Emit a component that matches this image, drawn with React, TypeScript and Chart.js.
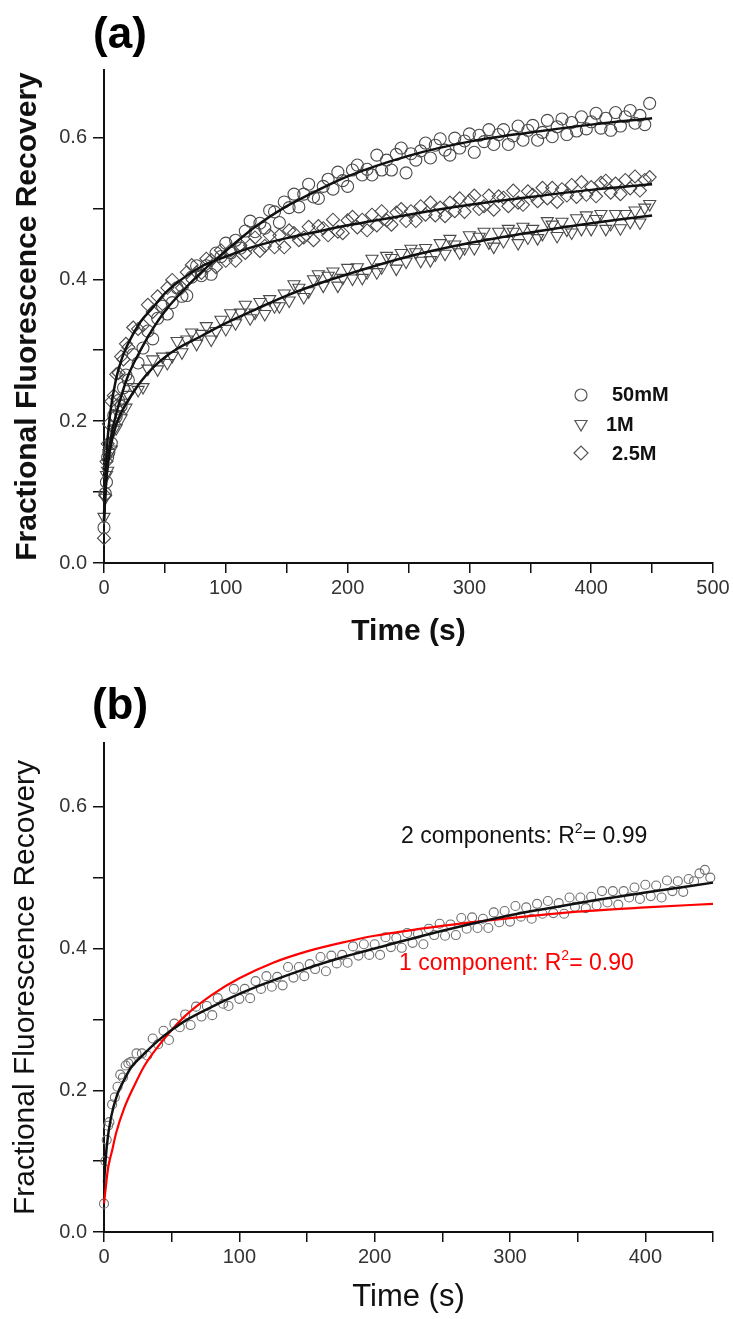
import React, { useEffect, useRef } from "react";
import { Chart, registerables } from "chart.js";
Chart.register(...registerables);

const FONT = '"Liberation Sans", Arial, Helvetica, sans-serif';

// sampling times (s) for measured points
const TIMES = [0, 1, 2, 3, 4, 6, 8, 10, 12, 14, 16, 18, 20,
  24, 28, 32, 36, 40, 44, 48, 52, 56, 60,
  64, 68, 72, 76, 80, 84, 88, 92, 96, 100,
  104, 108, 112, 116, 120, 124, 128, 132, 136, 140,
  144, 148, 152, 156, 160, 164, 168, 172, 176, 180,
  184, 188, 192, 196, 200, 204, 208, 212, 216, 220,
  224, 228, 232, 236, 240, 244, 248, 252, 256, 260,
  264, 268, 272, 276, 280, 284, 288, 292, 296, 300,
  304, 308, 312, 316, 320, 324, 328, 332, 336, 340,
  344, 348, 352, 356, 360, 364, 368, 372, 376, 380,
  384, 388, 392, 396, 400, 404, 408, 412, 416, 420,
  424, 428, 432, 436, 440, 444, 448];

// panel (a) measured data
const CIRCLE_50MM = [0.05, 0.098, 0.114, 0.149, 0.156, 0.169, 0.208, 0.206, 0.229, 0.221, 0.247, 0.265, 0.258,
  0.294, 0.282, 0.303, 0.327, 0.316, 0.345, 0.362, 0.351, 0.367, 0.388,
  0.376, 0.377, 0.403, 0.419, 0.405, 0.419, 0.407, 0.437, 0.432, 0.451,
  0.437, 0.455, 0.444, 0.468, 0.482, 0.467, 0.479, 0.472, 0.497, 0.495,
  0.48, 0.509, 0.501, 0.52, 0.502, 0.52, 0.534, 0.516, 0.514, 0.531,
  0.541, 0.527, 0.551, 0.539, 0.531, 0.554, 0.561, 0.547, 0.555, 0.547,
  0.575, 0.554, 0.568, 0.554, 0.576, 0.585, 0.55, 0.577, 0.568, 0.581,
  0.592, 0.571, 0.589, 0.598, 0.582, 0.575, 0.599, 0.585, 0.595, 0.605,
  0.579, 0.603, 0.594, 0.611, 0.59, 0.604, 0.611, 0.59, 0.602, 0.616,
  0.596, 0.61, 0.617, 0.596, 0.607, 0.624, 0.601, 0.615, 0.626, 0.604,
  0.621, 0.609, 0.629, 0.612, 0.622, 0.634, 0.613, 0.627, 0.61, 0.635,
  0.616, 0.629, 0.638, 0.62, 0.631, 0.618, 0.648];

const TRIANGLE_1M = [0.065, 0.092, 0.124, 0.13, 0.155, 0.16, 0.188, 0.19, 0.21, 0.204, 0.226, 0.219, 0.237,
  0.248, 0.244, 0.248, 0.274, 0.287, 0.273, 0.291, 0.282, 0.292, 0.313,
  0.297, 0.315, 0.325, 0.309, 0.323, 0.334, 0.315, 0.327, 0.343, 0.33,
  0.352, 0.338, 0.353, 0.364, 0.345, 0.353, 0.368, 0.351, 0.372, 0.362,
  0.362, 0.38, 0.37, 0.393, 0.388, 0.375, 0.383, 0.40, 0.407, 0.391,
  0.405, 0.411, 0.391, 0.402, 0.416, 0.401, 0.417, 0.402, 0.41, 0.429,
  0.41, 0.417, 0.433, 0.43, 0.415, 0.437, 0.425, 0.443, 0.438, 0.426,
  0.444, 0.427, 0.435, 0.451, 0.436, 0.457, 0.449, 0.438, 0.444, 0.462,
  0.444, 0.46, 0.467, 0.452, 0.446, 0.467, 0.454, 0.471, 0.467, 0.451,
  0.474, 0.459, 0.471, 0.458, 0.464, 0.482, 0.477, 0.461, 0.481, 0.47,
  0.466, 0.486, 0.471, 0.49, 0.471, 0.485, 0.492, 0.471, 0.478, 0.492,
  0.472, 0.492, 0.481, 0.497, 0.48, 0.501, 0.506];

const DIAMOND_25M = [0.035, 0.095, 0.143, 0.168, 0.196, 0.228, 0.236, 0.266, 0.268, 0.291, 0.287, 0.309, 0.304,
  0.332, 0.33, 0.335, 0.364, 0.354, 0.376, 0.365, 0.388, 0.399, 0.388,
  0.388, 0.41, 0.42, 0.41, 0.409, 0.429, 0.427, 0.417, 0.441, 0.426,
  0.441, 0.426, 0.448, 0.437, 0.448, 0.459, 0.44, 0.447, 0.462, 0.445,
  0.462, 0.445, 0.469, 0.465, 0.455, 0.459, 0.474, 0.455, 0.475, 0.472,
  0.462, 0.484, 0.467, 0.465, 0.483, 0.488, 0.473, 0.484, 0.469, 0.491,
  0.476, 0.496, 0.483, 0.477, 0.494, 0.499, 0.482, 0.496, 0.482, 0.503,
  0.491, 0.508, 0.49, 0.501, 0.489, 0.508, 0.496, 0.514, 0.495, 0.511,
  0.518, 0.499, 0.503, 0.518, 0.498, 0.517, 0.515, 0.503, 0.525, 0.508,
  0.505, 0.524, 0.519, 0.51, 0.529, 0.514, 0.529, 0.509, 0.527, 0.518,
  0.533, 0.516, 0.537, 0.519, 0.53, 0.517, 0.536, 0.539, 0.522, 0.535,
  0.52, 0.54, 0.528, 0.545, 0.525, 0.54, 0.544];

// fitted curves, panel (a)
const FIT_T = [0, 2, 5, 10, 15, 20, 30, 40, 50, 60, 80, 100, 125, 150, 175, 200, 250, 300, 350, 400, 450];
const FIT_50MM = [0.06, 0.12, 0.17, 0.21, 0.24, 0.265, 0.30, 0.33, 0.355, 0.375, 0.41, 0.44, 0.475, 0.503, 0.525, 0.545, 0.574, 0.594, 0.607, 0.618, 0.627];
const FIT_1M = [0.07, 0.12, 0.16, 0.195, 0.215, 0.23, 0.255, 0.275, 0.29, 0.302, 0.32, 0.338, 0.358, 0.377, 0.393, 0.407, 0.432, 0.451, 0.466, 0.479, 0.49];
const FIT_25M = [0.06, 0.15, 0.21, 0.26, 0.29, 0.31, 0.34, 0.36, 0.38, 0.395, 0.418, 0.432, 0.447, 0.458, 0.467, 0.476, 0.491, 0.505, 0.516, 0.526, 0.534];

// panel (b) measured data
const B_DATA = [0.04, 0.10, 0.13, 0.15, 0.155, 0.18, 0.19, 0.205, 0.222, 0.218, 0.235, 0.238, 0.24,
  0.252, 0.252, 0.249, 0.273, 0.265, 0.284, 0.271, 0.294, 0.289, 0.307,
  0.292, 0.318, 0.304, 0.319, 0.306, 0.33, 0.322, 0.319, 0.343, 0.329,
  0.343, 0.33, 0.354, 0.343, 0.361, 0.346, 0.36, 0.348, 0.374, 0.359,
  0.374, 0.361, 0.378, 0.371, 0.388, 0.368, 0.39, 0.379, 0.391, 0.38,
  0.403, 0.39, 0.406, 0.391, 0.406, 0.391, 0.416, 0.402, 0.415, 0.401,
  0.422, 0.408, 0.421, 0.406, 0.428, 0.419, 0.435, 0.418, 0.434, 0.419,
  0.443, 0.428, 0.444, 0.429, 0.442, 0.429, 0.451, 0.437, 0.453, 0.438,
  0.46, 0.445, 0.458, 0.442, 0.463, 0.449, 0.467, 0.45, 0.464, 0.449,
  0.472, 0.459, 0.472, 0.457, 0.473, 0.461, 0.481, 0.465, 0.481, 0.462,
  0.481, 0.472, 0.486, 0.47, 0.49, 0.474, 0.489, 0.472, 0.496, 0.481,
  0.495, 0.48, 0.498, 0.495, 0.506, 0.511, 0.5];

// fitted curves, panel (b)
const FIT_TWO = [0.07, 0.12, 0.16, 0.195, 0.215, 0.232, 0.252, 0.27, 0.285, 0.298, 0.318, 0.336, 0.355, 0.372, 0.387, 0.40, 0.425, 0.447, 0.464, 0.479, 0.493];
const RED_T = [0, 3, 6, 9, 15, 22, 30, 40, 50, 60, 80, 100, 125, 150, 175, 200, 250, 300, 350, 400, 450];
const FIT_ONE = [0.04, 0.09, 0.115, 0.14, 0.175, 0.205, 0.235, 0.262, 0.285, 0.305, 0.335, 0.358, 0.38, 0.396, 0.408, 0.418, 0.432, 0.443, 0.452, 0.458, 0.463];

const Y_TITLE = "Fractional Fluorescence Recovery";

function pts(xs: number[], ys: number[]) {
  const out: { x: number; y: number }[] = [];
  for (let i = 0; i < Math.min(xs.length, ys.length); i++) out.push({ x: xs[i], y: ys[i] });
  return out;
}

function scatterSet(data: number[], style: string, radius: number, color: string, rotation = 0) {
  return {
    data: pts(TIMES, data),
    showLine: false,
    pointStyle: style,
    pointRadius: radius,
    pointRotation: rotation,
    pointBorderColor: color,
    pointBackgroundColor: "rgba(0,0,0,0)",
    pointBorderWidth: 1.1,
    clip: false,
    order: 2,
  } as any;
}

function lineSet(xs: number[], ys: number[], color: string, width: number) {
  return {
    data: pts(xs, ys),
    showLine: true,
    borderColor: color,
    borderWidth: width,
    pointRadius: 0,
    cubicInterpolationMode: "monotone",
    fill: false,
    clip: false,
    order: 0,
  } as any;
}

function axes(xMax: number, yMax: number, bold: boolean, yTitlePad: number, xHeight: number, xTitlePad: number) {
  const weight = bold ? "bold" : "normal";
  return {
    x: {
      type: "linear",
      min: 0,
      max: xMax,
      border: { display: true, color: "#111", width: 2 },
      grid: { drawOnChartArea: false, drawTicks: true, tickLength: 10, color: "#111", lineWidth: 1.5 },
      ticks: {
        stepSize: 50,
        includeBounds: false,
        autoSkip: false,
        maxRotation: 0,
        padding: 3,
        color: "#333",
        font: { family: FONT, size: 20 },
        callback: (v: number) => (Math.round(v) % 100 === 0 ? String(Math.round(v)) : ""),
      },
      title: {
        display: true,
        text: "Time (s)",
        color: "#111",
        font: { family: FONT, size: bold ? 30 : 31, weight },
        padding: { top: 0, bottom: xTitlePad },
      },
      afterFit: (s: any) => {
        s.height = xHeight;
      },
    },
    y: {
      type: "linear",
      min: 0,
      max: yMax,
      border: { display: true, color: "#111", width: 2 },
      grid: { drawOnChartArea: false, drawTicks: true, tickLength: 11, color: "#111", lineWidth: 1.5 },
      ticks: {
        stepSize: 0.1,
        includeBounds: false,
        autoSkip: false,
        padding: 6,
        color: "#333",
        font: { family: FONT, size: 20 },
        callback: (v: number) => (Math.round(v * 10) % 2 === 0 ? v.toFixed(1) : ""),
      },
      title: {
        display: true,
        text: Y_TITLE,
        color: "#111",
        font: { family: FONT, size: 30, weight },
        padding: { top: yTitlePad, bottom: 0 },
      },
      afterFit: (s: any) => {
        s.width = 104;
      },
    },
  } as any;
}

function drawTri(ctx: CanvasRenderingContext2D, x: number, y: number, r: number) {
  const h = r * Math.sin(Math.PI / 3);
  ctx.beginPath();
  ctx.moveTo(x, y + r);
  ctx.lineTo(x - h, y - r / 2);
  ctx.lineTo(x + h, y - r / 2);
  ctx.closePath();
  ctx.stroke();
}
function drawDiamond(ctx: CanvasRenderingContext2D, x: number, y: number, r: number) {
  ctx.beginPath();
  ctx.moveTo(x - r, y);
  ctx.lineTo(x, y - r);
  ctx.lineTo(x + r, y);
  ctx.lineTo(x, y + r);
  ctx.closePath();
  ctx.stroke();
}

const topDecor = {
  id: "topDecor",
  afterDraw(chart: any) {
    const ctx: CanvasRenderingContext2D = chart.ctx;
    ctx.save();
    ctx.fillStyle = "#000";
    ctx.font = `bold 44px ${FONT}`;
    ctx.textAlign = "center";
    ctx.textBaseline = "alphabetic";
    ctx.fillText("(a)", 120, 48);
    // legend
    ctx.strokeStyle = "#555";
    ctx.lineWidth = 1.2;
    ctx.beginPath();
    ctx.arc(581, 395, 6, 0, Math.PI * 2);
    ctx.stroke();
    drawTri(ctx, 581, 424, 7);
    drawDiamond(ctx, 581, 453, 7);
    ctx.fillStyle = "#111";
    ctx.font = `bold 20px ${FONT}`;
    ctx.textAlign = "left";
    ctx.textBaseline = "middle";
    ctx.fillText("50mM", 612, 395);
    ctx.fillText("1M", 606, 425);
    ctx.fillText("2.5M", 612, 454);
    ctx.restore();
  },
};

function drawR2(ctx: CanvasRenderingContext2D, x: number, y: number, pre: string, post: string, color: string) {
  ctx.fillStyle = color;
  ctx.textAlign = "left";
  ctx.textBaseline = "alphabetic";
  ctx.font = `23px ${FONT}`;
  ctx.fillText(pre, x, y);
  let w = ctx.measureText(pre).width;
  ctx.font = `14px ${FONT}`;
  ctx.fillText("2", x + w, y - 10);
  w += ctx.measureText("2").width;
  ctx.font = `23px ${FONT}`;
  ctx.fillText(post, x + w, y);
}

const botDecor = {
  id: "botDecor",
  afterDraw(chart: any) {
    const ctx: CanvasRenderingContext2D = chart.ctx;
    ctx.save();
    ctx.fillStyle = "#000";
    ctx.font = `bold 44px ${FONT}`;
    ctx.textAlign = "center";
    ctx.textBaseline = "alphabetic";
    ctx.fillText("(b)", 120, 59);
    drawR2(ctx, 401, 183, "2 components: R", "= 0.99", "#111");
    drawR2(ctx, 399, 310, "1 component: R", "= 0.90", "#ff0000");
    ctx.restore();
  },
};

export default function App() {
  const topRef = useRef<HTMLCanvasElement>(null);
  const botRef = useRef<HTMLCanvasElement>(null);

  useEffect(() => {
    document.body.style.margin = "0";
    const charts: Chart[] = [];
    if (topRef.current) {
      charts.push(
        new Chart(topRef.current, {
          type: "scatter",
          data: {
            datasets: [
              lineSet(FIT_T, FIT_50MM, "#111", 2.5),
              lineSet(FIT_T, FIT_1M, "#111", 2.5),
              lineSet(FIT_T, FIT_25M, "#111", 2.5),
              scatterSet(CIRCLE_50MM, "circle", 6, "#4a4a4a"),
              scatterSet(TRIANGLE_1M, "triangle", 7, "#4a4a4a", 180),
              scatterSet(DIAMOND_25M, "rectRot", 6.5, "#4a4a4a"),
            ],
          },
          options: {
            responsive: false,
            animation: false,
            devicePixelRatio: 1,
            layout: { padding: { left: 0, right: 20, top: 70, bottom: 0 } },
            plugins: { legend: { display: false }, tooltip: { enabled: false } },
            scales: axes(500, 0.695, true, 10, 97, 10),
          } as any,
          plugins: [topDecor],
        })
      );
    }
    if (botRef.current) {
      charts.push(
        new Chart(botRef.current, {
          type: "scatter",
          data: {
            datasets: [
              lineSet(FIT_T, FIT_TWO, "#111", 2.5),
              lineSet(RED_T, FIT_ONE, "#ff0000", 2.2),
              scatterSet(B_DATA, "circle", 4.5, "#707070"),
            ],
          },
          options: {
            responsive: false,
            animation: false,
            devicePixelRatio: 1,
            layout: { padding: { left: 0, right: 20, top: 83, bottom: 0 } },
            plugins: { legend: { display: false }, tooltip: { enabled: false } },
            scales: axes(450, 0.69, false, 8, 87, 3),
          } as any,
          plugins: [botDecor],
        })
      );
    }
    return () => charts.forEach((c) => c.destroy());
  }, []);

  return (
    <div style={{ position: "relative", width: 733, height: 1319, background: "#fff", overflow: "hidden" }}>
      <canvas ref={topRef} width={733} height={660} style={{ position: "absolute", left: 0, top: 0, width: 733, height: 660 }} />
      <canvas ref={botRef} width={733} height={659} style={{ position: "absolute", left: 0, top: 660, width: 733, height: 659 }} />
    </div>
  );
}
